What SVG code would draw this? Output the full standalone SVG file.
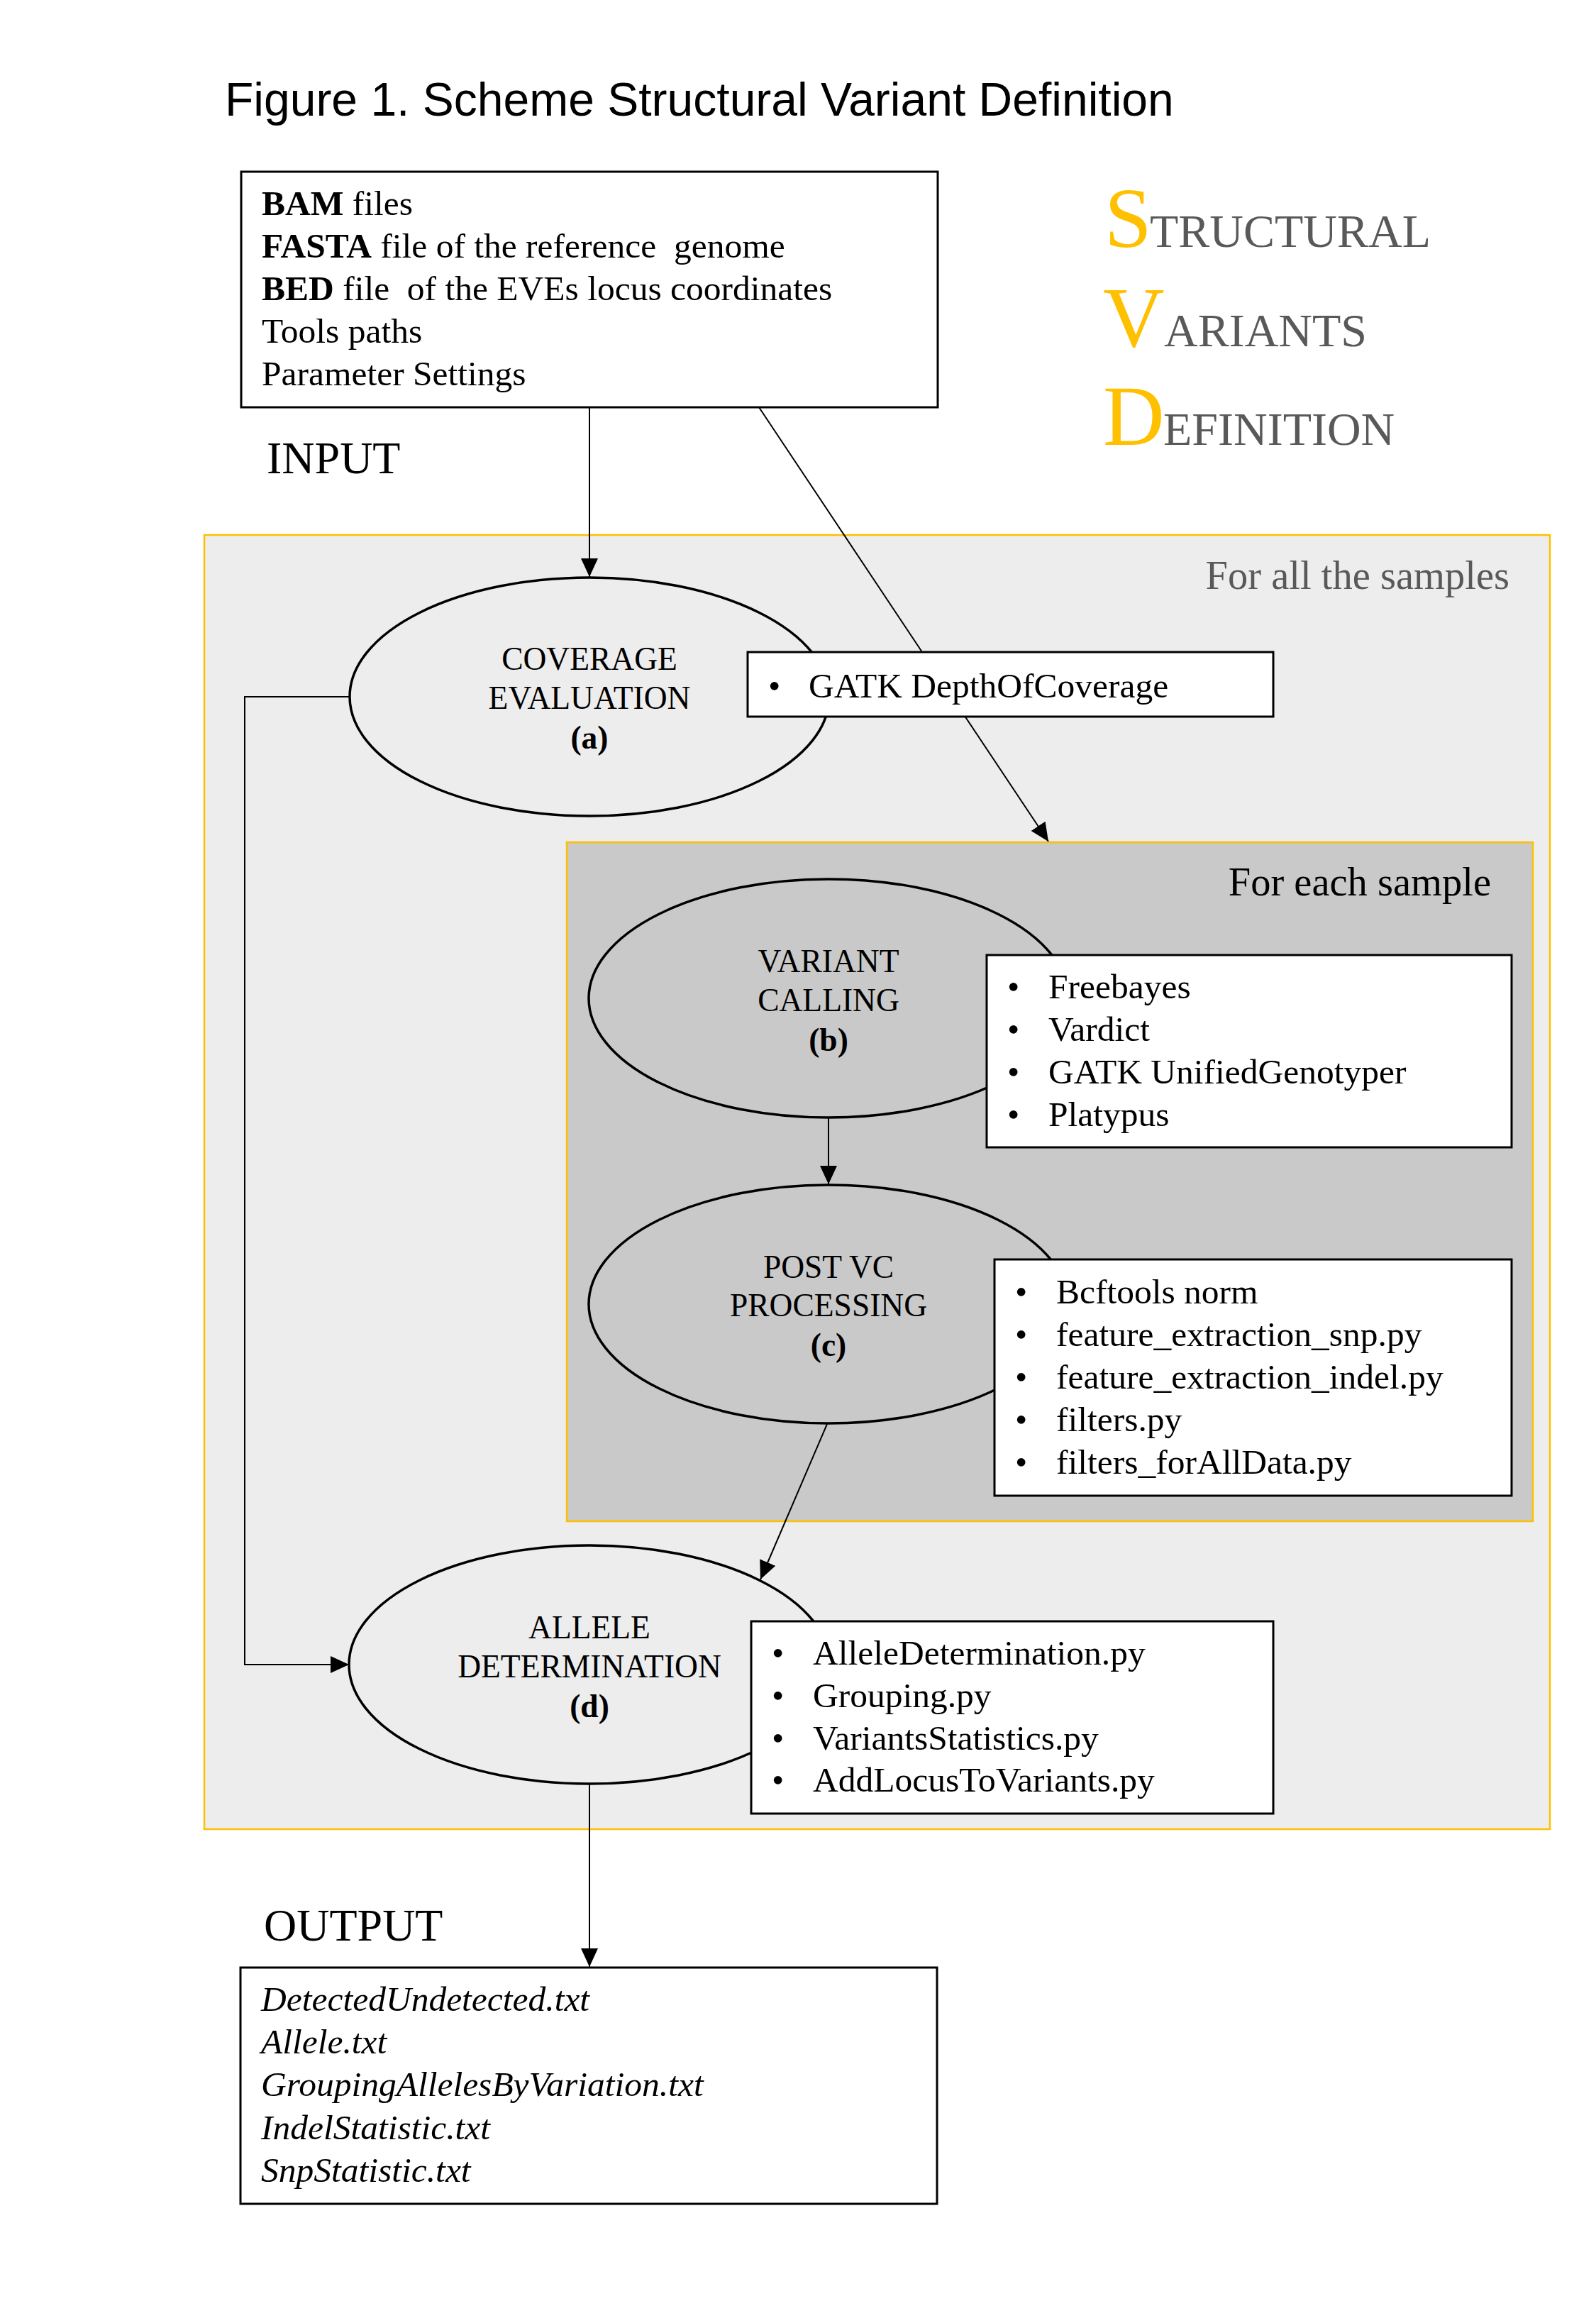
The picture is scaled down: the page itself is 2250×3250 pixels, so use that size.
<svg xmlns="http://www.w3.org/2000/svg" width="2250" height="3250" viewBox="0 0 2250 3250">
<style>
.serif{font-family:"Liberation Serif","Times New Roman",serif;fill:#000}
.title{font-family:"Liberation Sans",Arial,sans-serif;font-size:66px;fill:#000}
.io{font-size:49.5px}
.lbl{font-size:64px}
.ell{font-size:45.5px;text-anchor:middle}
.b{font-weight:bold}
.it{font-style:italic}
.big{font-size:120px;fill:#FFC000}
.sc{font-size:66px;fill:#595959}
.box{fill:#fff;stroke:#000;stroke-width:3}
.node{stroke:#000;stroke-width:3.5}
.conn{fill:none;stroke:#000;stroke-width:2}
.cont{stroke:#FFC000;stroke-width:2.5}
</style>
<defs>
<marker id="arr" markerUnits="userSpaceOnUse" markerWidth="26" markerHeight="24" refX="26" refY="12" orient="auto">
<path d="M0,0 L26,12 L0,24 z" fill="#000"/>
</marker>
</defs>
<rect width="2250" height="3250" fill="#fff"/>
<text class="title" x="317" y="163">Figure 1. Scheme Structural Variant Definition</text>
<g id="svd-logo" class="serif">
<text y="348"><tspan x="1557" class="big">S</tspan><tspan x="1621" class="sc">TRUCTURAL</tspan></text>
<text y="488"><tspan x="1555" class="big">V</tspan><tspan x="1641" class="sc">ARIANTS</tspan></text>
<text y="627"><tspan x="1555" class="big">D</tspan><tspan x="1640" class="sc">EFINITION</tspan></text>
</g>
<g id="container-all">
<rect class="cont" x="288" y="754" width="1897" height="1824" fill="#EDEDED"/>
<text class="serif" x="2128" y="830" font-size="56.5" text-anchor="end" style="fill:#595959">For all the samples</text>
</g>
<g id="container-each">
<rect class="cont" x="799" y="1187" width="1362" height="957" fill="#C9C9C9"/>
<text class="serif" x="2102" y="1262" font-size="56.5" text-anchor="end">For each sample</text>
</g>
<g id="connectors">
<line class="conn" x1="831" y1="574" x2="831" y2="813" marker-end="url(#arr)"/>
<line class="conn" x1="1070" y1="574" x2="1478" y2="1186" marker-end="url(#arr)"/>
<polyline class="conn" points="493,982 345,982 345,2346 492,2346" marker-end="url(#arr)"/>
<line class="conn" x1="1168" y1="1575" x2="1168" y2="1669" marker-end="url(#arr)"/>
<line class="conn" x1="1166" y1="2007" x2="1072" y2="2226" marker-end="url(#arr)"/>
<line class="conn" x1="831" y1="2514" x2="831" y2="2772" marker-end="url(#arr)"/>
</g>
<g id="input">
<rect class="box" x="340" y="242" width="982" height="332"/>
<text class="serif io" x="369" y="303"><tspan class="b">BAM</tspan> files</text>
<text class="serif io" x="369" y="363" xml:space="preserve"><tspan class="b">FASTA</tspan> file of the reference  genome</text>
<text class="serif io" x="369" y="423" xml:space="preserve"><tspan class="b">BED</tspan> file  of the EVEs locus coordinates</text>
<text class="serif io" x="369" y="483">Tools paths</text>
<text class="serif io" x="369" y="543">Parameter Settings</text>
<text class="serif lbl" x="376" y="667">INPUT</text>
</g>
<g id="node-a">
<ellipse class="node" cx="831" cy="982" rx="338" ry="168" fill="#EDEDED"/>
<text class="serif ell" x="831" y="944">COVERAGE</text>
<text class="serif ell" x="831" y="999">EVALUATION</text>
<text class="serif ell b" x="831" y="1055">(a)</text>
</g>
<g id="tools-a">
<rect class="box" x="1054" y="919" width="741" height="91"/>
<text class="serif io" x="1083" y="983">•</text>
<text class="serif io" x="1140" y="983">GATK DepthOfCoverage</text>
</g>
<g id="node-b">
<ellipse class="node" cx="1168" cy="1407" rx="338" ry="168" fill="#C9C9C9"/>
<text class="serif ell" x="1168" y="1370">VARIANT</text>
<text class="serif ell" x="1168" y="1425">CALLING</text>
<text class="serif ell b" x="1168" y="1481">(b)</text>
</g>
<g id="tools-b">
<rect class="box" x="1391" y="1346" width="740" height="271"/>
<text class="serif io" x="1420" y="1407">•</text><text class="serif io" x="1478" y="1407">Freebayes</text>
<text class="serif io" x="1420" y="1467">•</text><text class="serif io" x="1478" y="1467">Vardict</text>
<text class="serif io" x="1420" y="1527">•</text><text class="serif io" x="1478" y="1527">GATK UnifiedGenotyper</text>
<text class="serif io" x="1420" y="1587">•</text><text class="serif io" x="1478" y="1587">Platypus</text>
</g>
<g id="node-c">
<ellipse class="node" cx="1168" cy="1838" rx="338" ry="168" fill="#C9C9C9"/>
<text class="serif ell" x="1168" y="1801">POST VC</text>
<text class="serif ell" x="1168" y="1855">PROCESSING</text>
<text class="serif ell b" x="1168" y="1911">(c)</text>
</g>
<g id="tools-c">
<rect class="box" x="1402" y="1775" width="729" height="333"/>
<text class="serif io" x="1431" y="1837">•</text><text class="serif io" x="1489" y="1837">Bcftools norm</text>
<text class="serif io" x="1431" y="1897">•</text><text class="serif io" x="1489" y="1897">feature_extraction_snp.py</text>
<text class="serif io" x="1431" y="1957">•</text><text class="serif io" x="1489" y="1957">feature_extraction_indel.py</text>
<text class="serif io" x="1431" y="2017">•</text><text class="serif io" x="1489" y="2017">filters.py</text>
<text class="serif io" x="1431" y="2077">•</text><text class="serif io" x="1489" y="2077">filters_forAllData.py</text>
</g>
<g id="node-d">
<ellipse class="node" cx="831" cy="2346" rx="339" ry="168" fill="#EDEDED"/>
<text class="serif ell" x="831" y="2309">ALLELE</text>
<text class="serif ell" x="831" y="2364">DETERMINATION</text>
<text class="serif ell b" x="831" y="2420">(d)</text>
</g>
<g id="tools-d">
<rect class="box" x="1059" y="2285" width="736" height="271"/>
<text class="serif io" x="1088" y="2346">•</text><text class="serif io" x="1146" y="2346">AlleleDetermination.py</text>
<text class="serif io" x="1088" y="2406">•</text><text class="serif io" x="1146" y="2406">Grouping.py</text>
<text class="serif io" x="1088" y="2466">•</text><text class="serif io" x="1146" y="2466">VariantsStatistics.py</text>
<text class="serif io" x="1088" y="2525">•</text><text class="serif io" x="1146" y="2525">AddLocusToVariants.py</text>
</g>
<g id="output">
<text class="serif lbl" x="372" y="2735">OUTPUT</text>
<rect class="box" x="339" y="2773" width="982" height="333"/>
<text class="serif io it" x="368" y="2834">DetectedUndetected.txt</text>
<text class="serif io it" x="368" y="2894">Allele.txt</text>
<text class="serif io it" x="368" y="2954">GroupingAllelesByVariation.txt</text>
<text class="serif io it" x="368" y="3015">IndelStatistic.txt</text>
<text class="serif io it" x="368" y="3075">SnpStatistic.txt</text>
</g>
</svg>
